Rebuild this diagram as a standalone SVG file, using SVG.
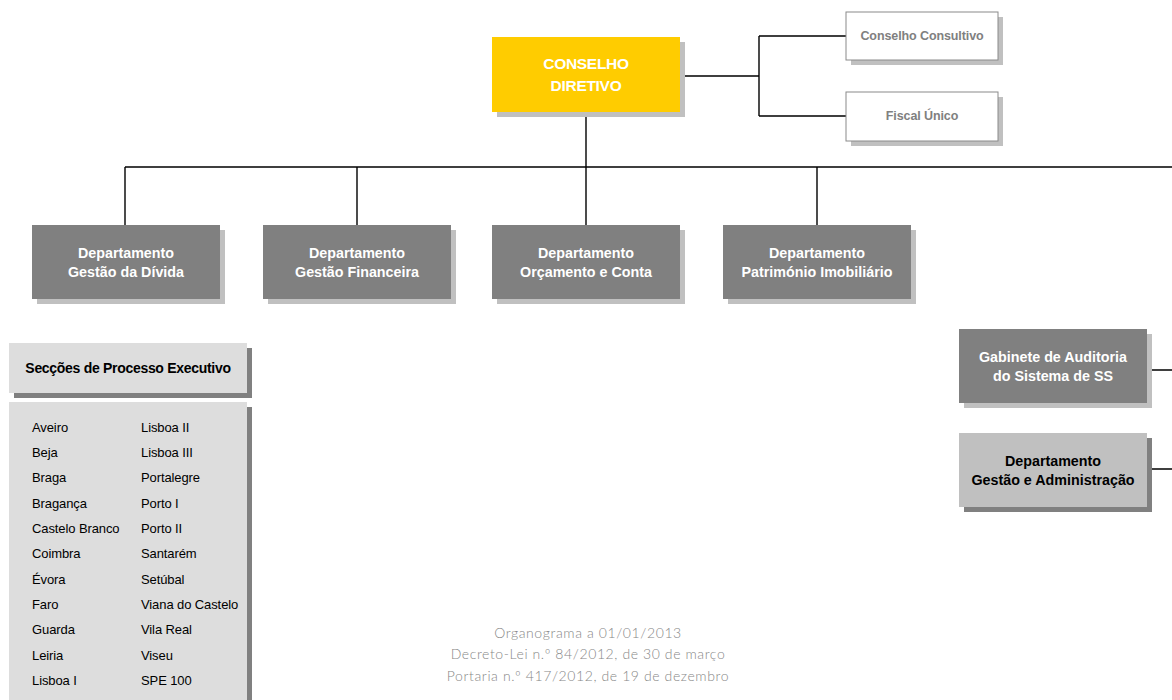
<svg xmlns="http://www.w3.org/2000/svg" width="1172" height="700" viewBox="0 0 1172 700">
<style>
text{font-family:"Liberation Sans",Arial,sans-serif;}
.sh{fill:#c0c0c0;}
.shd{fill:#808080;}
.dk{fill:#808080;}
.wt{fill:#ffffff;font-weight:bold;font-size:14.3px;text-anchor:middle;}
.small{fill:#808080;font-weight:bold;font-size:12.5px;text-anchor:middle;letter-spacing:-0.1px;}
.lst{fill:#000;font-size:13px;letter-spacing:-0.1px;}
.ft{fill:#878787;font-size:14px;font-weight:300;text-anchor:middle;letter-spacing:0.6px;font-family:"Lato","Liberation Sans",sans-serif;}
.ln{stroke:#000;stroke-width:1.4;fill:none;}
</style>
<rect width="1172" height="700" fill="#ffffff"/>
<g id="connectors">
<path class="ln" d="M685 76 H759 M759 36 V116 M759 36 H846 M759 116 H846"/>
<path class="ln" d="M586 112 V167 M125 167 H1172 M125 167 V225 M357 167 V225 M586 167 V225 M817 167 V225"/>
<path class="ln" d="M1147 370 H1172 M1147 469 H1172"/>
</g>
<g id="conselho-diretivo">
<rect class="sh" x="497" y="42" width="188" height="75"/>
<rect x="492" y="37" width="188" height="75" fill="#ffcc00"/>
<text class="wt" x="586" y="69" style="font-size:15.5px;letter-spacing:-0.3px">CONSELHO</text>
<text class="wt" x="586" y="91" style="font-size:15.5px;letter-spacing:-0.3px">DIRETIVO</text>
</g>
<g id="conselho-consultivo">
<rect class="sh" x="851" y="17" width="152" height="48"/>
<rect x="846" y="12" width="152" height="48" fill="#fff" stroke="#8a8a8a" stroke-width="1"/>
<text class="small" x="922" y="40">Conselho Consultivo</text>
</g>
<g id="fiscal-unico">
<rect class="sh" x="851" y="97" width="152" height="49"/>
<rect x="846" y="92" width="152" height="49" fill="#fff" stroke="#8a8a8a" stroke-width="1"/>
<text class="small" x="922" y="120">Fiscal Único</text>
</g>
<g id="dep-gestao-divida">
<rect class="sh" x="37" y="230" width="188" height="74"/>
<rect class="dk" x="32" y="225" width="188" height="74"/>
<text class="wt" x="126" y="258">Departamento</text>
<text class="wt" x="126" y="277">Gestão da Dívida</text>
</g>
<g id="dep-gestao-financeira">
<rect class="sh" x="268" y="230" width="188" height="74"/>
<rect class="dk" x="263" y="225" width="188" height="74"/>
<text class="wt" x="357" y="258">Departamento</text>
<text class="wt" x="357" y="277">Gestão Financeira</text>
</g>
<g id="dep-orcamento-conta">
<rect class="sh" x="497" y="230" width="188" height="74"/>
<rect class="dk" x="492" y="225" width="188" height="74"/>
<text class="wt" x="586" y="258">Departamento</text>
<text class="wt" x="586" y="277">Orçamento e Conta</text>
</g>
<g id="dep-patrimonio">
<rect class="sh" x="728" y="230" width="188" height="74"/>
<rect class="dk" x="723" y="225" width="188" height="74"/>
<text class="wt" x="817" y="258">Departamento</text>
<text class="wt" x="817" y="277">Património Imobiliário</text>
</g>
<g id="gabinete-auditoria">
<rect class="sh" x="964" y="334" width="188" height="74"/>
<rect class="dk" x="959" y="329" width="188" height="74"/>
<text class="wt" x="1053" y="362">Gabinete de Auditoria</text>
<text class="wt" x="1053" y="381">do Sistema de SS</text>
</g>
<g id="dep-gestao-administracao">
<rect class="shd" x="964" y="438" width="188" height="74"/>
<rect x="959" y="433" width="188" height="74" fill="#c0c0c0"/>
<text class="wt" x="1053" y="466" style="fill:#000">Departamento</text>
<text class="wt" x="1053" y="485" style="fill:#000">Gestão e Administração</text>
</g>
<g id="seccoes-header">
<rect class="shd" x="14" y="348" width="238" height="50"/>
<rect x="9" y="343" width="238" height="50" fill="#dddddd"/>
<text x="128" y="373" style="font-size:14px;font-weight:bold;text-anchor:middle;letter-spacing:-0.3px;fill:#000">Secções de Processo Executivo</text>
</g>
<g id="seccoes-lista">
<rect class="shd" x="14" y="407" width="238" height="300"/>
<rect x="9" y="402" width="238" height="300" fill="#dddddd"/>
<text class="lst" x="32" y="432">Aveiro</text>
<text class="lst" x="32" y="457">Beja</text>
<text class="lst" x="32" y="482">Braga</text>
<text class="lst" x="32" y="508">Bragança</text>
<text class="lst" x="32" y="533">Castelo Branco</text>
<text class="lst" x="32" y="558">Coimbra</text>
<text class="lst" x="32" y="584">Évora</text>
<text class="lst" x="32" y="609">Faro</text>
<text class="lst" x="32" y="634">Guarda</text>
<text class="lst" x="32" y="660">Leiria</text>
<text class="lst" x="32" y="685">Lisboa I</text>
<text class="lst" x="141" y="432">Lisboa II</text>
<text class="lst" x="141" y="457">Lisboa III</text>
<text class="lst" x="141" y="482">Portalegre</text>
<text class="lst" x="141" y="508">Porto I</text>
<text class="lst" x="141" y="533">Porto II</text>
<text class="lst" x="141" y="558">Santarém</text>
<text class="lst" x="141" y="584">Setúbal</text>
<text class="lst" x="141" y="609">Viana do Castelo</text>
<text class="lst" x="141" y="634">Vila Real</text>
<text class="lst" x="141" y="660">Viseu</text>
<text class="lst" x="141" y="685">SPE 100</text>
</g>
<g id="rodape">
<text class="ft" x="588" y="638">Organograma a 01/01/2013</text>
<text class="ft" x="588" y="659">Decreto-Lei n.º 84/2012, de 30 de março</text>
<text class="ft" x="588" y="681">Portaria n.º 417/2012, de 19 de dezembro</text>
</g>
</svg>
